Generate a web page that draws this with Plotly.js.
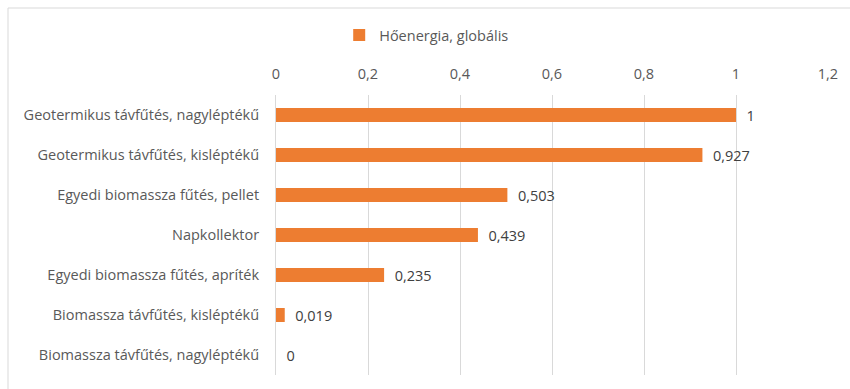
<!DOCTYPE html>
<html>
<head>
<meta charset="utf-8">
<script src="https://cdn.plot.ly/plotly-3.0.1.min.js"></script>
<style>html,body{margin:0;padding:0;background:#fff;}#chart{width:850px;height:389px;}</style>
</head>
<body>
<div id="chart"></div>
<script>
var categories = [
  "Geotermikus távfűtés, nagyléptékű",
  "Geotermikus távfűtés, kisléptékű",
  "Egyedi biomassza fűtés, pellet",
  "Napkollektor",
  "Egyedi biomassza fűtés, apríték",
  "Biomassza távfűtés, kisléptékű",
  "Biomassza távfűtés, nagyléptékű"
];
var values = [1, 0.927, 0.503, 0.439, 0.235, 0.019, 0];
var seriesName = "Hőenergia, globális";
var tickVals = [0, 0.2, 0.4, 0.6, 0.8, 1, 1.2];
var tickText = ["0", "0,2", "0,4", "0,6", "0,8", "1", "1,2"];

var labels = values.map(function(v){ return '\u00a0\u00a0' + String(v).replace('.', ','); });

var font = "Open Sans, Liberation Sans, Arial, sans-serif";
var fs = 14.5;
var trace = {
  type: 'bar',
  orientation: 'h',
  x: values,
  y: categories,
  name: seriesName,
  marker: {color: '#ED7D31'},
  text: labels,
  textposition: 'outside',
  constraintext: 'none',
  cliponaxis: false,
  textfont: {family: font, size: fs, color: '#404040'},
  hoverinfo: 'none'
};

var layout = {
  width: 850, height: 389,
  margin: {l: 276, r: 22, t: 95, b: 14},
  paper_bgcolor: '#fff', plot_bgcolor: '#fff',
  font: {family: font, size: fs, color: '#595959'},
  showlegend: true,
  legend: {orientation: 'h', x: 0.502, xref: 'container', xanchor: 'center', y: 0.91, yref: 'container', yanchor: 'middle',
           font: {family: font, size: fs, color: '#595959'}, itemwidth: 30},
  bargap: 0.65,
  xaxis: {side: 'top', range: [0, 1.2], tickvals: tickVals, ticktext: tickText, showgrid: true, gridcolor: '#d9d9d9', gridwidth: 1,
          zeroline: false, showline: false, ticks: '', ticklabelstandoff: 12, tickfont: {family: font, size: fs, color: '#595959'}, fixedrange: true},
  yaxis: {autorange: 'reversed', showline: true, linecolor: '#d9d9d9', linewidth: 1, ticks: '', ticklabelstandoff: 13,
          tickfont: {family: font, size: fs, color: '#595959'}, fixedrange: true},
  shapes: [{type: 'rect', xref: 'paper', yref: 'paper', x0: (8-276)/552, x1: (900-276)/552, y0: (375-420)/280, y1: (375-8)/280,
            line: {color: '#d9d9d9', width: 1}, fillcolor: 'rgba(0,0,0,0)', layer: 'below'}]
};

Plotly.newPlot('chart', [trace], layout, {displayModeBar: false, staticPlot: true});
</script>
</body>
</html>
